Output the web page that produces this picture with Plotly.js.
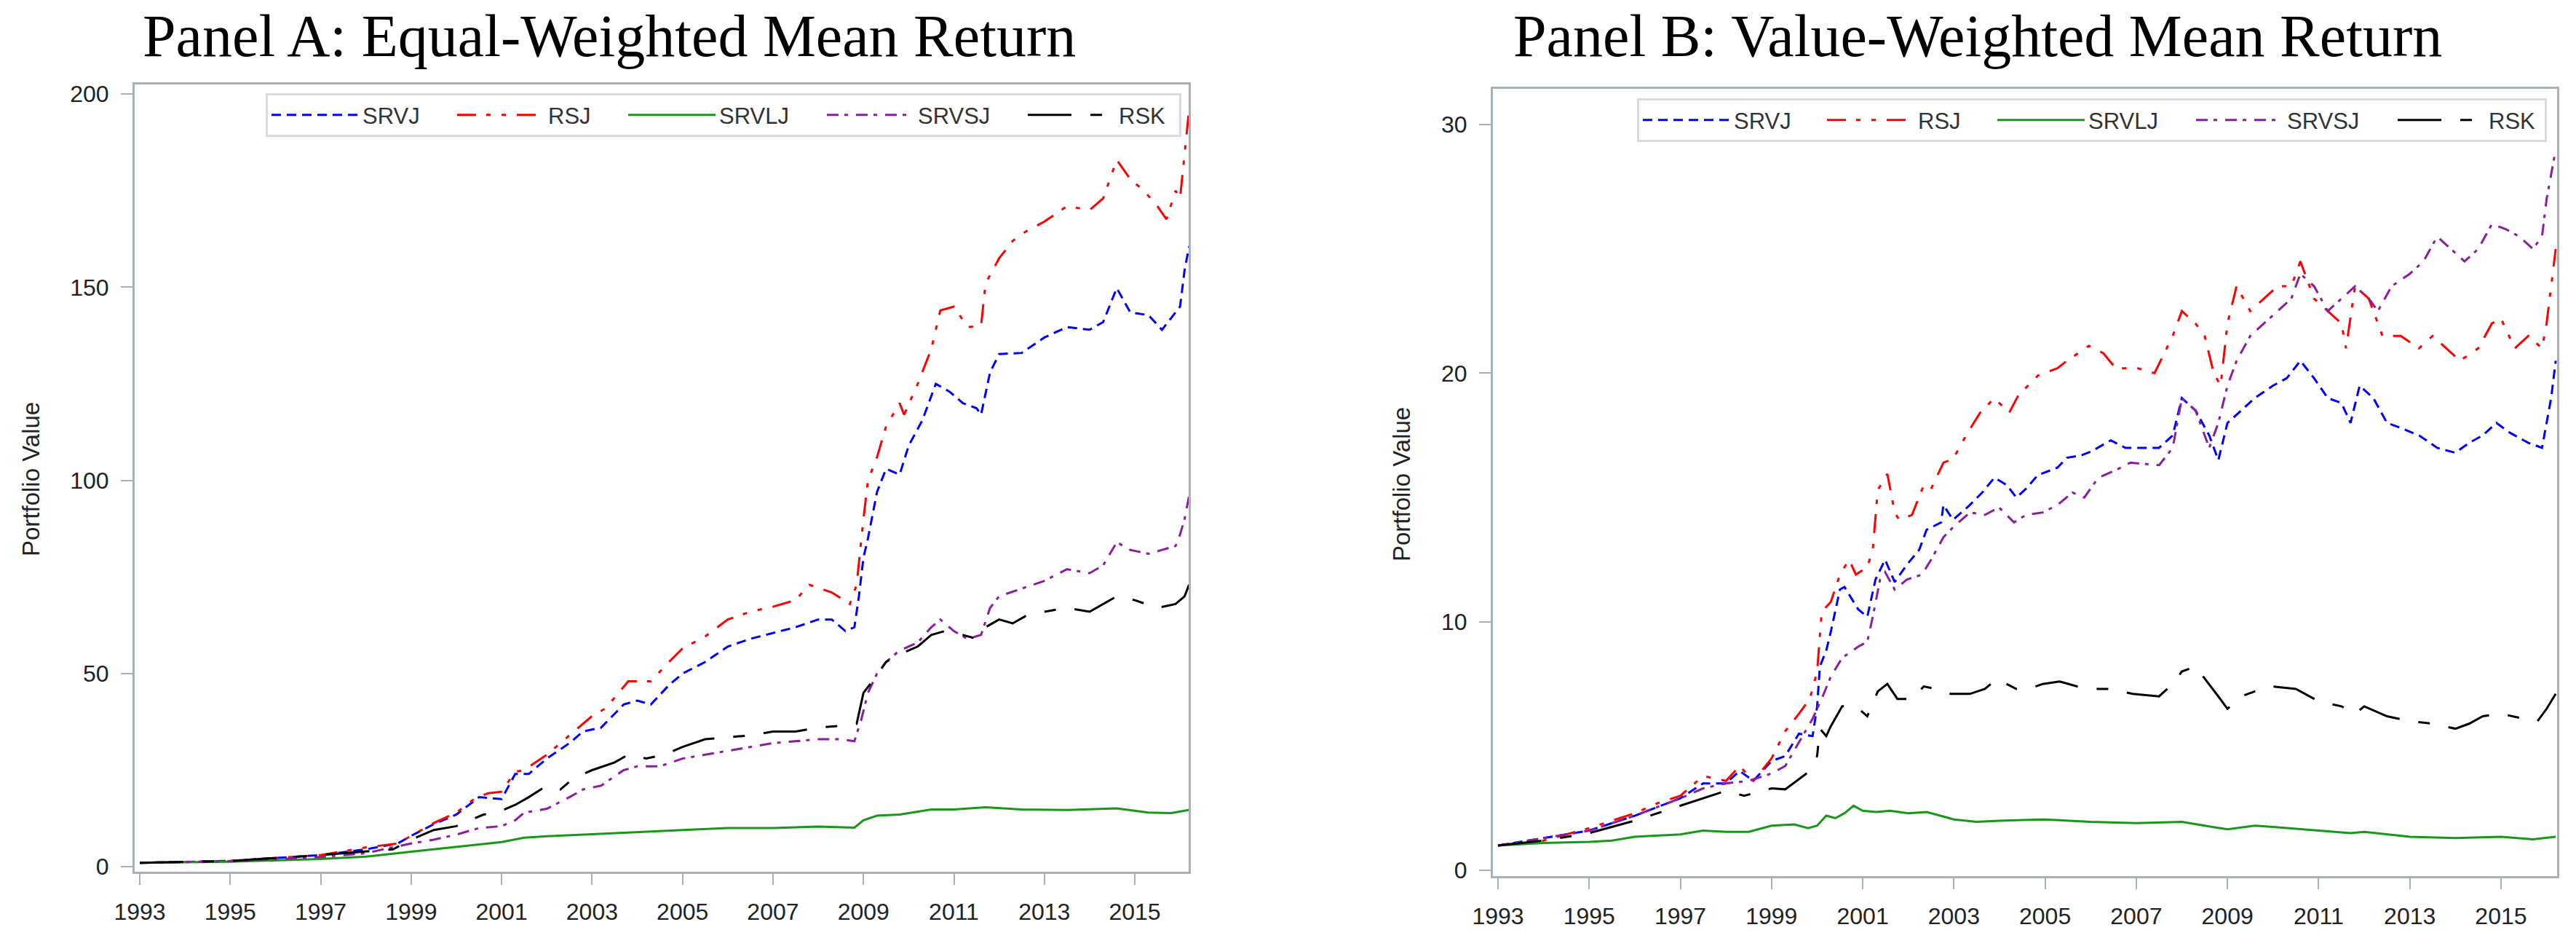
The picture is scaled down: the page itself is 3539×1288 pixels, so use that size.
<!DOCTYPE html>
<html>
<head>
<meta charset="utf-8">
<script src="https://cdn.plot.ly/plotly-3.0.1.min.js"></script>
<style>
  html, body { margin: 0; padding: 0; background: #ffffff; }
  #chart { width: 3539px; height: 1288px; }
</style>
</head>
<body>
<div id="chart"></div>
<script>
// ---------- Series names / labels ----------
var seriesNames = ["SRVJ", "RSJ", "SRVLJ", "SRVSJ", "RSK"];
var yearTicks = [1993, 1995, 1997, 1999, 2001, 2003, 2005, 2007, 2009, 2011, 2013, 2015];
var yTicksA = [0, 50, 100, 150, 200];
var yTicksB = [0, 10, 20, 30];
var titleA = "Panel A: Equal-Weighted Mean Return";
var titleB = "Panel B: Value-Weighted Mean Return";
var yTitle = "Portfolio Value";

// ---------- Panel A: Equal-weighted (time in years, portfolio value) ----------
var a_srvj_t = [1993,1995,1997,1998,1998.7,1999,1999.5,2000,2000.5,2001,2001.3,2001.6,2002,2002.5,2002.8,2003.2,2003.7,2004,2004.3,2004.7,2005,2005.5,2006,2006.5,2007,2007.5,2008,2008.3,2008.6,2008.8,2008.9,2009.0,2009.1,2009.3,2009.5,2009.8,2010.0,2010.3,2010.6,2010.9,2011.2,2011.5,2011.6,2011.8,2012.0,2012.5,2013,2013.5,2014,2014.3,2014.6,2014.9,2015.3,2015.6,2015.9,2016.0,2016.1,2016.2];
var a_srvj_v = [1,1.5,3,4.5,6,8,11,13.5,18,17.5,24,24,28,32,35,36,42,43,42,47,50,53,57,59,60.5,62,64,64,61,62,70,80,85,97,103,101.5,109,115.5,125,123,120,118.7,117,128,132.7,133,137,139.7,139,141,149.8,143.5,142.8,139,143.5,145,154.4,160.6];

var a_rsj_t = [1993,1995,1997,1998,1998.7,1999,1999.5,2000,2000.4,2000.7,2001,2001.3,2001.5,2002,2002.5,2003,2003.3,2003.8,2004.3,2004.7,2005,2005.5,2006,2006.5,2007,2007.5,2007.8,2008.3,2008.7,2008.85,2009.0,2009.1,2009.3,2009.5,2009.8,2009.9,2010.2,2010.5,2010.7,2011.0,2011.3,2011.6,2011.7,2012.0,2012.3,2012.6,2013,2013.5,2014,2014.3,2014.6,2014.9,2015.2,2015.5,2015.7,2015.9,2016.0,2016.1,2016.2];
var a_rsj_v = [1,1.5,3,5,6,8,11.3,14,17.6,19,19.4,24.6,25,29,34,39,41,48,48,53,56.5,59.6,64,66,67.3,69,73,71,68,73,90,100,106,114,120,117,125,134,144,145,139.7,140,151,157.5,162,164.5,167,171,170,173,183,178,175,171,167.6,175,173,185,196];

var a_srvlj_t = [1993,1995,1997,1998,1999,2000,2001,2001.5,2002,2003,2004,2005,2006,2007,2008,2008.8,2009.0,2009.3,2009.8,2010.5,2011,2011.7,2012.5,2013.5,2014.6,2015.3,2015.8,2016.2];
var a_srvlj_v = [1,1.3,2,2.6,3.9,5.2,6.4,7.5,7.9,8.4,9,9.5,10,10,10.4,10.1,12,13.2,13.5,14.8,14.8,15.4,14.8,14.7,15.1,14,13.9,14.7];

var a_srvsj_t = [1993,1995,1997,1998,1998.5,1999,1999.5,2000,2000.5,2001,2001.3,2001.5,2002,2002.5,2002.8,2003.2,2003.7,2004,2004.5,2005,2005.5,2006,2006.5,2007,2007.5,2008,2008.5,2008.8,2008.95,2009.1,2009.3,2009.5,2009.8,2010.2,2010.5,2010.7,2011,2011.3,2011.6,2011.8,2012.0,2012.5,2013,2013.5,2014,2014.3,2014.6,2014.9,2015.3,2015.6,2015.9,2016.0,2016.1,2016.2];
var a_srvsj_v = [1,1.4,2.5,3.5,4.8,6,7,8.3,10,10.5,12,14,15,18,20,21,25,26,26,28,29,30,31,32,32.5,33,33,32.5,38,45,50,53,56,58,62,64,61,59,60,67,70,72,74,77,76,78,84,82,81,82,83,86,90,96];

var a_rsk_t = [1993,1995,1997,1998,1998.6,1999,1999.5,2000,2000.3,2000.6,2000.9,2001.3,2001.6,2002,2002.3,2002.6,2003,2003.5,2003.8,2004.2,2004.6,2005,2005.5,2006,2006.5,2007,2007.5,2008,2008.5,2008.85,2009.0,2009.2,2009.5,2009.8,2010.2,2010.5,2010.8,2011.2,2011.5,2011.7,2012,2012.3,2012.6,2013,2013.5,2014,2014.3,2014.6,2015,2015.5,2015.9,2016.1,2016.2];
var a_rsk_v = [1,1.5,3,3.9,4.5,7,9.5,10.5,12,13.5,14,16,18,21,20,23,25,27,29,28,29,31,33,33.5,34,35,35,36,36.5,37,45,48,53,55,57,60,61,60,59,62,64,63,65,66,67,66,68,70,69,67,68,70,73];

// ---------- Panel B: Value-weighted ----------
var b_srvj_t = [1993,1995,1996,1997,1997.5,1998,1998.3,1998.6,1999,1999.3,1999.6,1999.9,2000.0,2000.06,2000.2,2000.3,2000.5,2000.6,2000.9,2001.1,2001.28,2001.49,2001.7,2001.97,2002.24,2002.4,2002.72,2002.77,2002.98,2003.35,2003.62,2003.89,2004.16,2004.37,2004.58,2004.84,2005.27,2005.48,2005.8,2006.01,2006.44,2006.76,2007.03,2007.5,2007.8,2008.0,2008.3,2008.6,2008.8,2009.0,2009.3,2009.6,2010,2010.3,2010.6,2010.9,2011.2,2011.5,2011.7,2011.9,2012.2,2012.5,2012.8,2013.2,2013.6,2014.0,2014.3,2014.6,2014.9,2015.2,2015.6,2015.9,2016.0,2016.1,2016.2];
var b_srvj_v = [1,1.6,2.2,2.9,3.5,3.5,4,3.6,4.4,4.6,5.5,5.4,6.6,8.2,8.85,9.6,11.3,11.4,10.5,10.2,11.7,12.5,11.6,12.3,12.9,13.7,14.0,14.7,14.1,14.7,15.2,15.8,15.5,15.0,15.35,15.9,16.2,16.6,16.7,16.85,17.3,17.0,17.0,17,17.5,19,18.5,17.5,16.5,18,18.5,19,19.5,19.8,20.5,19.8,19,18.8,18,19.5,19,18,17.8,17.5,17,16.8,17.2,17.5,18,17.6,17.2,17,18,19,20.5];

var b_rsj_t = [1993,1994,1995,1996,1996.5,1997,1997.5,1998,1998.3,1998.6,1999,1999.3,1999.6,1999.84,2000.0,2000.06,2000.1,2000.3,2000.5,2000.7,2000.85,2001.1,2001.22,2001.33,2001.54,2001.7,2001.8,2002.08,2002.34,2002.5,2002.77,2002.98,2003.3,2003.57,2003.89,2004.21,2004.41,2004.84,2005.27,2005.48,2005.96,2006.28,2006.55,2007.03,2007.4,2007.8,2008.0,2008.3,2008.5,2008.7,2008.85,2009.0,2009.2,2009.5,2009.8,2010.1,2010.4,2010.6,2010.9,2011.2,2011.5,2011.6,2011.8,2012.1,2012.4,2012.8,2013.2,2013.5,2013.8,2014.1,2014.5,2014.8,2015.0,2015.3,2015.6,2015.9,2016.0,2016.1,2016.2];
var b_rsj_v = [1,1.2,1.7,2.3,2.7,3.0,3.8,3.6,4.2,3.6,4.5,5.6,6.3,6.9,8.0,9.4,10.4,10.8,11.9,12.5,11.9,12.2,12.9,15.3,15.95,14.4,14.1,14.3,15.5,15.35,16.4,16.55,17.6,18.4,19.0,18.4,19.1,19.9,20.2,20.5,21.1,20.8,20.2,20.2,20,21.5,22.5,22,21.5,20,19.5,22,23.5,22.5,23,23.5,23.5,24.5,23,22.5,22,21,23.5,23,21.5,21.5,21,21.5,21,20.5,21,22,22.2,21,21.5,21,22,23.5,25];

var b_srvlj_t = [1993,1994,1995,1995.5,1996,1996.5,1997,1997.5,1998,1998.5,1999,1999.5,1999.8,2000.0,2000.2,2000.4,2000.6,2000.8,2001.0,2001.3,2001.6,2002.0,2002.4,2002.7,2003,2003.5,2004,2005,2006,2007,2008.0,2008.5,2009,2009.6,2010,2011,2011.7,2012,2012.5,2013,2014,2015,2015.7,2016.2];
var b_srvlj_v = [1,1.1,1.15,1.2,1.35,1.4,1.45,1.6,1.55,1.55,1.8,1.85,1.7,1.8,2.2,2.1,2.3,2.6,2.4,2.35,2.4,2.3,2.35,2.2,2.05,1.95,2.0,2.05,1.95,1.9,1.95,1.8,1.65,1.8,1.75,1.6,1.5,1.55,1.45,1.35,1.3,1.35,1.25,1.35];

var b_srvsj_t = [1993,1995,1996,1997,1997.5,1998,1998.5,1999,1999.3,1999.9,2000.1,2000.3,2000.55,2000.9,2001.1,2001.22,2001.38,2001.49,2001.7,2001.97,2002.3,2002.5,2002.77,2002.98,2003.35,2003.68,2003.99,2004.32,2004.58,2004.95,2005.27,2005.6,2005.86,2006.17,2006.55,2006.87,2007.5,2007.8,2008.0,2008.3,2008.6,2008.8,2009.0,2009.2,2009.5,2009.8,2010.1,2010.4,2010.6,2010.9,2011.2,2011.5,2011.8,2012.1,2012.3,2012.6,2013.0,2013.3,2013.6,2013.9,2014.2,2014.5,2014.8,2015.1,2015.4,2015.7,2015.9,2016.0,2016.2];
var b_srvsj_v = [1,1.6,2.2,2.9,3.3,3.5,3.6,3.9,4.2,6.1,6.9,7.8,8.55,9.0,9.2,10.2,11.7,12.0,11.3,11.7,11.9,12.5,13.4,13.8,14.4,14.3,14.6,14.0,14.3,14.4,14.7,15.2,15.0,15.8,16.1,16.4,16.3,17,19,18.5,17,18,19.5,20.5,21.5,22,22.5,23,24,23.5,22.5,23,23.5,23,22.5,23.5,24,24.5,25.5,25,24.5,25,26,25.8,25.5,25,25.5,27,29];

var b_rsk_t = [1993,1994,1995,1996,1996.5,1997,1997.5,1998,1998.4,1998.8,1999.0,1999.3,1999.84,2000.0,2000.06,2000.2,2000.3,2000.55,2000.85,2001.1,2001.33,2001.54,2001.76,2002.08,2002.34,2002.6,2002.93,2003.35,2003.68,2003.94,2004.37,2004.63,2004.95,2005.32,2005.7,2006.17,2006.44,2006.92,2007.5,2007.8,2008.0,2008.3,2008.6,2008.8,2009.0,2009.3,2009.6,2010,2010.5,2011,2011.5,2011.8,2012.0,2012.5,2013,2013.5,2014.0,2014.3,2014.6,2015,2015.5,2015.8,2016.0,2016.2];
var b_rsk_v = [1,1.2,1.5,2.0,2.3,2.6,2.9,3.2,3.0,3.2,3.3,3.26,4.0,4.6,5.7,5.4,5.8,6.6,6.6,6.2,7.2,7.5,6.9,6.9,7.4,7.3,7.1,7.1,7.3,7.7,7.3,7.3,7.5,7.6,7.4,7.3,7.3,7.1,7.0,7.5,8.0,8.2,7.5,7.0,6.5,7.0,7.2,7.4,7.3,6.8,6.6,6.3,6.6,6.2,6.0,5.9,5.7,5.9,6.2,6.3,6.1,6.0,6.5,7.1];

// ---------- Styling ----------
var styles = {
  SRVJ:  { color: "#0000FF", dash: "13px,8px" },
  RSJ:   { color: "#FF0000", dash: "26px,14px,6px,15px,6px,15px" },
  SRVLJ: { color: "#1A961A", dash: "solid" },
  SRVSJ: { color: "#8A1E9E", dash: "16px,8px,5px,11px" },
  RSK:   { color: "#000000", dash: "60px,26px,16px,26px" }
};
// width of the text part of each legend entry (symbol part is itemwidth + gaps)
var legendTextWidthsA = [120, 100, 138, 141, 78];
var legendTextWidthsB = [118, 99, 138, 142, 72];

var panelA = [[a_srvj_t, a_srvj_v], [a_rsj_t, a_rsj_v], [a_srvlj_t, a_srvlj_v], [a_srvsj_t, a_srvsj_v], [a_rsk_t, a_rsk_v]];
var panelB = [[b_srvj_t, b_srvj_v], [b_rsj_t, b_rsj_v], [b_srvlj_t, b_srvlj_v], [b_srvsj_t, b_srvsj_v], [b_rsk_t, b_rsk_v]];

var traces = [];
function addPanel(data, xa, ya, legendId, widths) {
  for (var i = 0; i < seriesNames.length; i++) {
    var nm = seriesNames[i];
    traces.push({
      type: "scatter", mode: "lines",
      x: data[i][0], y: data[i][1],
      name: nm, xaxis: xa, yaxis: ya, legend: legendId, legendwidth: widths[i],
      line: { color: styles[nm].color, width: 3, dash: styles[nm].dash },
      hoverinfo: "skip"
    });
  }
}
addPanel(panelA, "x", "y", "legend", legendTextWidthsA);
addPanel(panelB, "x2", "y2", "legend2", legendTextWidthsB);

var W = 3539, H = 1288;
var frameColor = "#A9B0B6";
var tickFont = { family: "Liberation Sans, Arial, sans-serif", size: 32, color: "#222222" };

function xAxis(l, r, range, anchor) {
  return {
    domain: [l / W, r / W], range: range, anchor: anchor,
    tickmode: "array", tickvals: yearTicks, ticktext: yearTicks.map(String),
    ticks: "outside", ticklen: 15, tickwidth: 2, tickcolor: frameColor,
    showline: true, mirror: true, linecolor: frameColor, linewidth: 3,
    showgrid: false, zeroline: false, tickfont: tickFont, ticklabelstandoff: 10
  };
}
function yAxis(b, t, range, vals, anchor) {
  return {
    domain: [1 - b / H, 1 - t / H], range: range, anchor: anchor,
    tickmode: "array", tickvals: vals, ticktext: vals.map(String),
    ticks: "outside", ticklen: 16, tickwidth: 2, tickcolor: frameColor,
    showline: true, mirror: true, linecolor: frameColor, linewidth: 3,
    showgrid: false, zeroline: false, tickfont: tickFont, ticklabelstandoff: 10
  };
}

var legendFont = { family: "Liberation Sans, Arial, sans-serif", size: 31, color: "#333333" };
function legendCfg(x, y) {
  return {
    x: x / W, y: 1 - y / H, xanchor: "left", yanchor: "top",
    orientation: "h", bgcolor: "#FFFFFF", bordercolor: "#DADADA", borderwidth: 3,
    font: legendFont, itemwidth: 120, itemclick: false, itemdoubleclick: false
  };
}

var titleFont = { family: "Liberation Serif, Times New Roman, serif", size: 82, color: "#000000" };
var axTitleFont = { family: "Liberation Sans, Arial, sans-serif", size: 33, color: "#222222" };

var layout = {
  width: W, height: H,
  margin: { l: 0, r: 0, t: 0, b: 0 },
  paper_bgcolor: "#FFFFFF", plot_bgcolor: "#FFFFFF",
  showlegend: true,
  xaxis: xAxis(185, 1633, [1992.887, 2016.19], "y"),
  yaxis: yAxis(1197, 116, [-1.3, 202.5], yTicksA, "x"),
  xaxis2: xAxis(2051, 3513, [1992.888, 2016.23], "y2"),
  yaxis2: yAxis(1203, 122, [-0.23, 31.44], yTicksB, "x2"),
  legend: legendCfg(365, 128),
  legend2: legendCfg(2249, 135),
  annotations: [
    { text: titleA, xref: "paper", yref: "paper", x: 837 / W, y: 1 - 49 / H, xanchor: "center", yanchor: "middle", showarrow: false, font: titleFont },
    { text: titleB, xref: "paper", yref: "paper", x: 2717 / W, y: 1 - 49 / H, xanchor: "center", yanchor: "middle", showarrow: false, font: titleFont },
    { text: yTitle, xref: "paper", yref: "paper", x: 42 / W, y: 1 - 658 / H, xanchor: "center", yanchor: "middle", textangle: -90, showarrow: false, font: axTitleFont },
    { text: yTitle, xref: "paper", yref: "paper", x: 1925 / W, y: 1 - 665 / H, xanchor: "center", yanchor: "middle", textangle: -90, showarrow: false, font: axTitleFont }
  ]
};

Plotly.newPlot("chart", traces, layout, { staticPlot: true, displayModeBar: false });
</script>
</body>
</html>
